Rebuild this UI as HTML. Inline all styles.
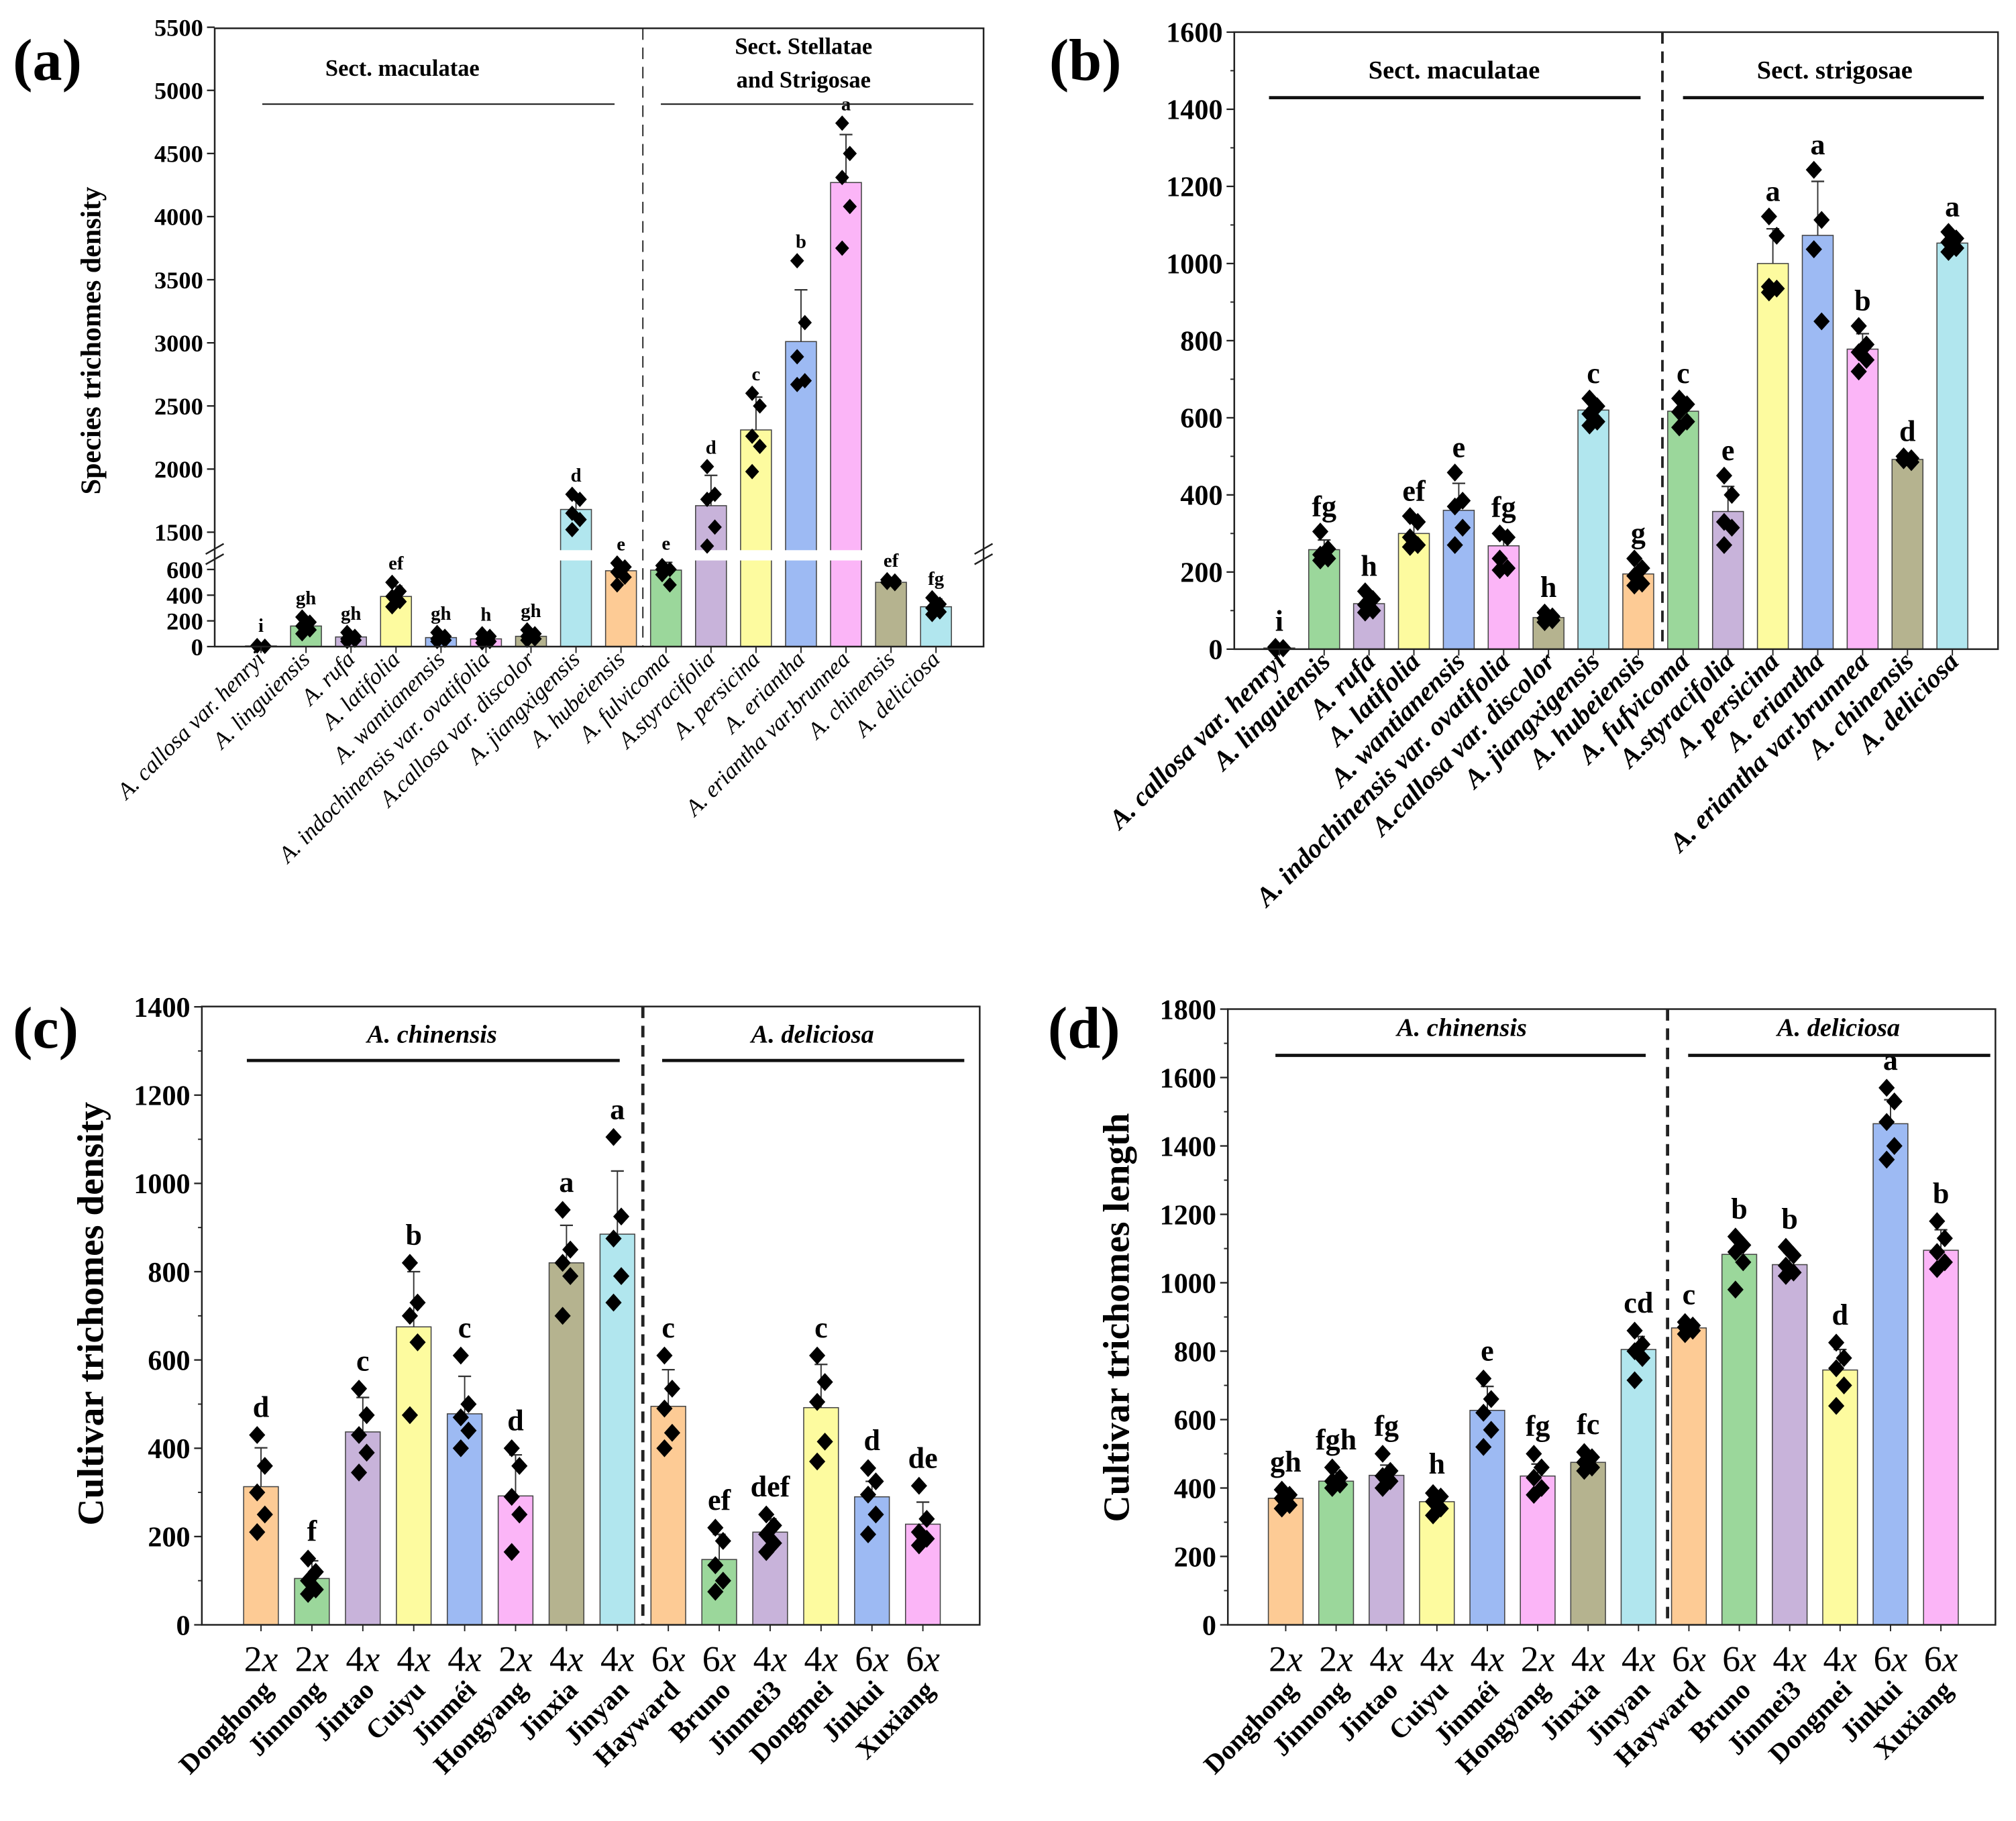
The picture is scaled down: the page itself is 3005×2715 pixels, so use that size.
<!DOCTYPE html>
<html><head><meta charset="utf-8"><style>
html,body{margin:0;padding:0;background:#fff;}
svg, svg text{font-family:"Liberation Serif","Times New Roman",serif;}
</style></head><body>
<svg id="fig" xmlns="http://www.w3.org/2000/svg" width="3005" height="2710" viewBox="0 0 1568 1414" preserveAspectRatio="none" font-family="Liberation Serif, serif"></svg>
<script>
// ---------- data ----------
const speciesA = ["A. callosa var. henryi","A. linguiensis","A. rufa","A. latifolia","A. wantianensis","A. indochinensis var. ovatifolia","A.callosa var. discolor","A. jiangxigensis","A. hubeiensis","A. fulvicoma","A.styracifolia","A. persicina","A. eriantha","A. eriantha var.brunnea","A. chinensis","A. deliciosa"];
const valuesA = [5,160,75,390,70,60,80,1680,590,595,1710,2310,3010,4270,500,310];
const errorsA = [10,60,30,80,30,30,40,80,60,60,240,260,410,380,20,60];
const lettersA = ["i","gh","gh","ef","gh","h","gh","d","e","e","d","c","b","a","ef","fg"];
const pointsA = [[5,2,8,3,6],[230,190,160,130,100],[110,80,60,50,40],[500,430,390,350,310],[110,80,60,50,40],[100,80,60,40,30],[130,100,80,60,50],[1800,1760,1650,1600,1520],[650,620,580,540,480],[630,600,560,480,600],[2020,1800,1760,1540,1390],[2600,2500,2260,2180,1980],[3650,3160,2890,2700,2670],[4740,4500,4310,4080,3750],[520,510,500,490,500],[380,330,300,270,250]];
const ticksAUpper = [1500,2000,2500,3000,3500,4000,4500,5000,5500];
const ticksALower = [0,200,400,600];

const speciesB = ["A. callosa var. henryi","A. linguiensis","A. rufa","A. latifolia","A. wantianensis","A. indochinensis var. ovatifolia","A.callosa var. discolor","A. jiangxigensis","A. hubeiensis","A. fufvicoma","A.styracifolia","A. persicina","A. eriantha","A. eriantha var.brunnea","A. chinensis","A. deliciosa"];
const valuesB = [3,258,118,300,360,268,82,620,195,617,357,1000,1073,778,492,1053];
const errorsB = [5,25,20,30,70,35,10,20,25,25,65,90,140,40,8,20];
const lettersB = ["i","fg","h","ef","e","fg","h","c","g","c","e","a","a","b","d","a"];
const pointsB = [[5,2,0,3,6],[305,260,245,235,230],[150,130,115,100,95],[345,330,290,270,265],[458,385,370,315,270],[300,290,235,210,205],[95,85,80,75,70],[650,630,610,590,580],[235,210,190,170,165],[650,635,615,590,575],[450,400,330,315,270],[1122,1072,940,935,925],[1243,1113,1037,850,1037],[838,790,770,750,720],[500,495,490,485,490],[1082,1065,1055,1040,1030]];
const ticksB = [0,200,400,600,800,1000,1200,1400,1600];

const cultivars = ["Donghong","Jinnong","Jintao","Cuiyu","Jinméi","Hongyang","Jinxia","Jinyan","Hayward","Bruno","Jinmei3","Dongmei","Jinkui","Xuxiang"];
const ploidy = ["2","2","4","4","4","2","4","4","6","6","4","4","6","6"];
const valuesC = [313,105,437,675,478,292,820,885,495,148,210,492,290,228];
const errorsC = [88,40,78,125,85,93,85,143,83,57,30,98,35,50];
const lettersC = ["d","f","c","b","c","d","a","a","c","ef","def","c","d","de"];
const pointsC = [[430,360,300,250,210],[150,120,100,80,70],[535,475,430,390,345],[820,730,700,640,475],[610,500,470,440,400],[400,360,290,250,165],[940,850,820,790,700],[1105,925,875,790,730],[610,535,490,435,400],[220,190,135,100,75],[250,225,205,185,165],[610,550,505,415,370],[355,325,295,250,205],[315,240,210,195,180]];
const ticksC = [0,200,400,600,800,1000,1200,1400];

const valuesD = [370,420,437,360,627,435,475,805,868,1083,1053,745,1465,1095];
const errorsD = [25,25,30,30,70,35,20,38,15,40,35,60,70,60];
const lettersD = ["gh","fgh","fg","h","e","fg","fc","cd","c","b","b","d","a","b"];
const pointsD = [[395,380,370,350,340],[460,430,420,410,400],[500,450,435,420,400],[385,375,360,340,320],[720,660,620,570,520],[500,460,430,400,380],[505,490,475,460,450],[860,820,800,780,715],[885,875,870,860,850],[1135,1110,1090,1060,980],[1105,1080,1050,1030,1020],[825,780,750,700,640],[1570,1530,1470,1400,1360],[1180,1130,1090,1060,1040]];
const ticksD = [0,200,400,600,800,1000,1200,1400,1600,1800];

const palette = ["#fdcb95","#9bd79b","#c8b3da","#fdfb9f","#9dbaf3","#fbb5f7","#b5b38f","#b1e6ee"];

// ---------- helpers ----------
const NS = "http://www.w3.org/2000/svg";
const svg = document.getElementById("fig");
function mk(tag, attrs, parent, text){
  const e = document.createElementNS(NS, tag);
  for (const k in attrs) e.setAttribute(k, attrs[k]);
  if (tag === "text") e.setAttribute("font-family", "Liberation Serif, Times New Roman, serif");
  if (text !== undefined) e.textContent = text;
  (parent || svg).appendChild(e);
  return e;
}
function diamond(g, x, y, r){
  return mk("polygon", {points:`${x},${y-r} ${x+r*0.9},${y} ${x},${y+r} ${x-r*0.9},${y}`, fill:"#000"}, g);
}

function panel(cfg){
  const g = mk("g", {});
  
  
  if (cfg.clip) g.setAttribute("clip-path", cfg.clip);
  const {L,R,T,B,y,n,first,step,bw} = cfg;
  const xc = i => first + i*step;
  for (let i=0;i<n;i++){
    const v = cfg.values[i];
    const bar = mk("rect",{x:xc(i)-bw/2,y:y(v),width:bw,height:B-y(v),fill:palette[i%8],stroke:"#444","stroke-width":0.8},g);
    
    
  }
  if (cfg.breakY){
    mk("rect",{x:L+1,y:cfg.breakY-4,width:R-L-2,height:8,fill:"#fff"},g);
  }
  for (let i=0;i<n;i++){
    const v = cfg.values[i], e = cfg.errors[i];
    const yt = y(v+e);
    const eb = mk("g",{},g);
    
    
    mk("line",{x1:xc(i),x2:xc(i),y1:y(v),y2:yt,stroke:"#333","stroke-width":1},eb);
    mk("line",{x1:xc(i)-5,x2:xc(i)+5,y1:yt,y2:yt,stroke:"#333","stroke-width":1.2},eb);
  }
  for (let i=0;i<n;i++){
    cfg.points[i].forEach((p,j)=>{
      const d = diamond(g, xc(i) + (j%2? 3:-3), y(p), cfg.dr);
      
      
    });
  }
  for (let i=0;i<n;i++){
    const top = Math.max(cfg.values[i]+cfg.errors[i], Math.max(...cfg.points[i]));
    const t = mk("text",{x:xc(i),y:y(top)-cfg.letterGap,"text-anchor":"middle","font-size":cfg.letterSize,"font-weight":"bold"},g,cfg.letters[i]);
    
    
  }
  const fr = mk("rect",{x:L,y:T,width:R-L,height:B-T,fill:"none",stroke:"#222","stroke-width":1.3},g);
  
  
  const dv = mk("line",{x1:cfg.divX,x2:cfg.divX,y1:T,y2:B,stroke:"#222","stroke-width":cfg.divW,"stroke-dasharray":"9,6"},g);
  
  
  cfg.ticks.forEach((tv,k)=>{
    const ty = y(tv);
    mk("line",{x1:L-6,x2:L,y1:ty,y2:ty,stroke:"#222","stroke-width":1.2},g);
    const lb = mk("text",{x:L-9,y:ty+cfg.tickSize*0.35,"text-anchor":"end","font-size":cfg.tickSize,"font-weight":"bold"},g,String(tv));
    
    
    if (k<cfg.ticks.length-1 && cfg.minor){
      const my = y((tv+cfg.ticks[k+1])/2);
      mk("line",{x1:L-3,x2:L,y1:my,y2:my,stroke:"#222","stroke-width":1},g);
    }
  });
  for (let i=0;i<n;i++) mk("line",{x1:xc(i),x2:xc(i),y1:B,y2:B+5,stroke:"#222","stroke-width":1},g);
  cfg.sections.forEach(s=>{
    s.lines.forEach((ln,k)=>{
      const t = mk("text",{x:s.cx,y:s.ty+k*26,"text-anchor":"middle","font-size":s.size,"font-weight":"bold","font-style":s.italic?"italic":"normal"},g,ln);
      
      
    });
    const l = mk("line",{x1:s.x1,x2:s.x2,y1:s.ly,y2:s.ly,stroke:"#111","stroke-width":s.lw},g);
    
    
  });
  for (let i=0;i<n;i++){
    const ax = xc(i)+cfg.labDx, ay = cfg.labY;
    if (cfg.ploidy){
      const p = mk("text",{x:xc(i),y:cfg.ploidyY,"text-anchor":"middle","font-size":28},g);
      
      
      mk("tspan",{},p,cfg.ploidy[i]);
      mk("tspan",{"font-style":"italic"},p,"x");
    }
    const t = mk("text",{x:ax,y:ay,"text-anchor":"end","font-size":cfg.labSize,"font-weight":cfg.labBold?"bold":"normal","font-style":cfg.labItalic?"italic":"normal",transform:`rotate(-45 ${ax} ${ay})`},g,cfg.labels[i]);
    
    
  }
  if (cfg.ytitle){
    const t = mk("text",{x:cfg.ytx,y:cfg.yty,"text-anchor":"middle","font-size":cfg.ytSize,"font-weight":"bold",transform:`rotate(-90 ${cfg.ytx} ${cfg.yty})`},g,cfg.ytitle);
    
    
  }
  const pl = mk("text",{x:cfg.plx,y:cfg.ply,"font-size":46,"font-weight":"bold"},svg,cfg.pletter);
  
  
  return g;
}

const defs = mk("defs",{});
const cp = mk("clipPath",{id:"clipB"},defs);
mk("rect",{x:856,y:0,width:712,height:760},cp);

// ---------- panel a ----------
function yA(v){ return v <= 1000 ? 503 - v*0.1 : 414 - (v-1500)*0.0982; }
const ga = panel({name:"panel-a-chart",L:167,R:765,T:22,B:503,y:yA,n:16,first:203,step:35,bw:24,
  values:valuesA,errors:errorsA,points:pointsA,letters:lettersA,ticks:ticksAUpper.concat(ticksALower),minor:false,
  dr:6,letterGap:10,letterSize:15,divX:500,divW:1,breakY:432,tickSize:19,
  sections:[{lines:["Sect. maculatae"],cx:313,ty:59,size:18,x1:204,x2:478,ly:81,lw:1},
            {lines:["Sect. Stellatae","and Strigosae"],cx:625,ty:42,size:18,x1:514,x2:757,ly:81,lw:1}],
  labels:speciesA,labDx:4,labY:514,labSize:18,labItalic:true,labBold:false,
  ytitle:"Species trichomes density",ytx:78,yty:265,ytSize:22,plx:10,ply:62,pletter:"(a)"});
[[160,432],[758,432]].forEach(([bx,by])=>{
  const m = mk("g",{},ga);
  
  
  mk("line",{x1:bx,y1:by-1,x2:bx+14,y2:by-9,stroke:"#222","stroke-width":1.3},m);
  mk("line",{x1:bx,y1:by+7,x2:bx+14,y2:by-1,stroke:"#222","stroke-width":1.3},m);
});

// ---------- panel b ----------
function yB(v){ return 505 - v*0.3; }
panel({name:"panel-b-chart",L:960,R:1554,T:25,B:505,y:yB,n:16,first:995,step:34.9,bw:24,
  values:valuesB,errors:errorsB,points:pointsB,letters:lettersB,ticks:ticksB,minor:true,
  dr:7,letterGap:12,letterSize:23,divX:1293,divW:2,tickSize:22,clip:"url(#clipB)",
  sections:[{lines:["Sect. maculatae"],cx:1131,ty:61,size:20,x1:987,x2:1276,ly:76,lw:2.5},
            {lines:["Sect. strigosae"],cx:1427,ty:61,size:20,x1:1309,x2:1543,ly:76,lw:2.5}],
  labels:speciesB,labDx:6,labY:516,labSize:21,labItalic:true,labBold:true,
  ytitle:null,plx:816,ply:62,pletter:"(b)"});

// ---------- panel c ----------
function yC(v){ return 1264 - v*0.3434; }
panel({name:"panel-c-chart",L:157,R:762,T:783,B:1264,y:yC,n:14,first:203,step:39.6,bw:27,
  values:valuesC,errors:errorsC,points:pointsC,letters:lettersC,ticks:ticksC,minor:true,
  dr:7,letterGap:14,letterSize:23,divX:500,divW:2.5,tickSize:22,
  sections:[{lines:["A. chinensis"],cx:336,ty:811,size:20,italic:true,x1:192,x2:482,ly:825,lw:2.5},
            {lines:["A. deliciosa"],cx:632,ty:811,size:20,italic:true,x1:515,x2:750,ly:825,lw:2.5}],
  labels:cultivars,labDx:10,labY:1316,labSize:21,labItalic:false,labBold:true,ploidy:ploidy,ploidyY:1300,
  ytitle:"Cultivar trichomes density",ytx:80,yty:1022,ytSize:29,plx:10,ply:815,pletter:"(c)"});

// ---------- panel d ----------
function yD(v){ return 1264 - v*0.2661; }
panel({name:"panel-d-chart",L:955,R:1552,T:785,B:1264,y:yD,n:14,first:1000,step:39.2,bw:27,
  values:valuesD,errors:errorsD,points:pointsD,letters:lettersD,ticks:ticksD,minor:true,
  dr:7,letterGap:14,letterSize:23,divX:1297,divW:2.5,tickSize:22,
  sections:[{lines:["A. chinensis"],cx:1137,ty:806,size:20,italic:true,x1:992,x2:1280,ly:821,lw:2.5},
            {lines:["A. deliciosa"],cx:1430,ty:806,size:20,italic:true,x1:1313,x2:1548,ly:821,lw:2.5}],
  labels:cultivars,labDx:10,labY:1316,labSize:21,labItalic:false,labBold:true,ploidy:ploidy,ploidyY:1300,
  ytitle:"Cultivar trichomes length",ytx:878,yty:1025,ytSize:29,plx:815,ply:815,pletter:"(d)"});
</script>
</body></html>
